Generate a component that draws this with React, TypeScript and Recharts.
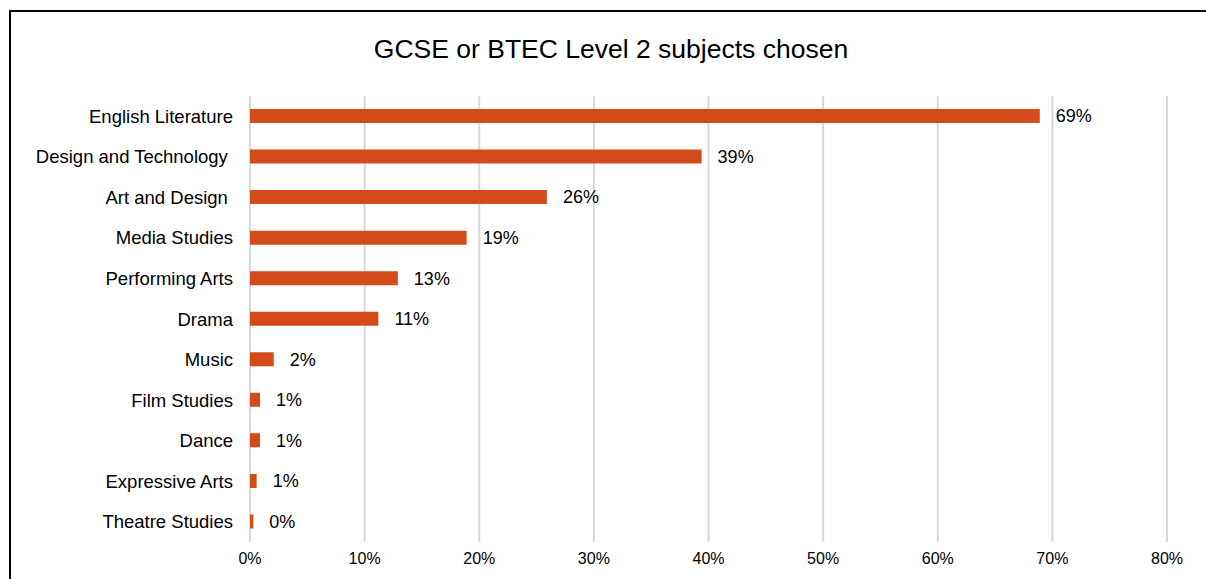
import React from 'react';
import { BarChart, Bar, XAxis, YAxis, CartesianGrid, LabelList } from 'recharts';

// Subjects, top to bottom, with share of students choosing them (%)
const subjects = [
  'English Literature',
  'Design and Technology ',
  'Art and Design ',
  'Media Studies',
  'Performing Arts',
  'Drama',
  'Music',
  'Film Studies',
  'Dance',
  'Expressive Arts',
  'Theatre Studies',
];
const shares = [68.9, 39.4, 25.9, 18.9, 12.9, 11.2, 2.07, 0.87, 0.87, 0.58, 0.29];
const xTicks = [0, 10, 20, 30, 40, 50, 60, 70, 80];

const data = subjects.map((name, i) => ({ name, value: shares[i] }));

const FONT = '"Liberation Sans", Arial, sans-serif';

function SubjectTick(props: any) {
  const { x, y, payload } = props;
  return (
    <text
      x={x}
      y={y}
      dy="0.355em"
      textAnchor="end"
      fill="#000"
      fontSize={18.5}
      fontFamily={FONT}
      style={{ whiteSpace: 'pre' }}
    >
      {payload.value}
    </text>
  );
}

export default function App() {
  return (
    <div style={{ position: 'fixed', left: 0, top: 0, width: 1206, height: 579, overflow: 'hidden', background: '#fff' }}>
      <div
        style={{
          position: 'absolute',
          left: 9,
          top: 10,
          width: 1220,
          height: 620,
          border: '2px solid #000',
        }}
      />
      <div
        style={{
          position: 'absolute',
          left: 0,
          top: 34,
          width: 1222,
          textAlign: 'center',
          fontFamily: FONT,
          fontSize: 26.5,
          lineHeight: '30px',
          color: '#000',
        }}
      >
        GCSE or BTEC Level 2 subjects chosen
      </div>
      <div style={{ position: 'absolute', left: 0, top: 0 }}>
        <BarChart
          width={1206}
          height={579}
          data={data}
          layout="vertical"
          margin={{ top: 96, right: 39, bottom: 7, left: 10 }}
          barCategoryGap={0}
        >
          <CartesianGrid horizontal={false} stroke="#d9d9d9" strokeWidth={2} />
          <XAxis
            type="number"
            domain={[0, 80]}
            ticks={xTicks}
            interval={0}
            axisLine={false}
            tickLine={false}
            tickMargin={5}
            height={30}
            tickFormatter={(v: number) => `${v}%`}
            tick={{ fill: '#000', fontSize: 16, fontFamily: FONT }}
          />
          <YAxis
            type="category"
            dataKey="name"
            width={240}
            axisLine={false}
            tickLine={false}
            tickMargin={11}
            interval={0}
            tick={<SubjectTick />}
          />
          <Bar dataKey="value" fill="#D34A1B" barSize={14} isAnimationActive={false}>
            <LabelList
              dataKey="value"
              position="right"
              offset={16}
              formatter={(v: number) => `${Math.round(v)}%`}
              style={{ fill: '#000', fontSize: 18, fontFamily: FONT }}
            />
          </Bar>
        </BarChart>
      </div>
    </div>
  );
}
